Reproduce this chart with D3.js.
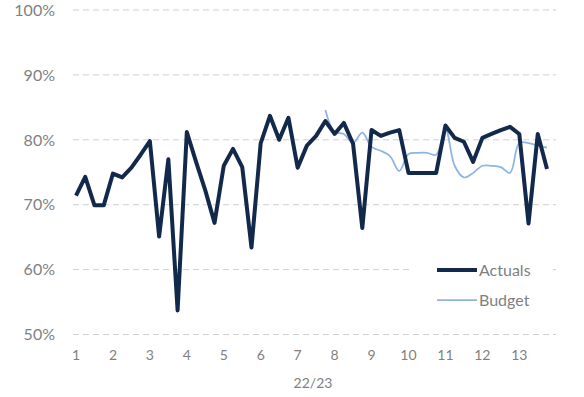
<!DOCTYPE html>
<html>
<head>
<meta charset="utf-8">
<script src="https://cdn.jsdelivr.net/npm/d3@7"></script>
<style>
  html, body { margin: 0; padding: 0; background: #fff; }
  svg { display: block; font-family: Lato, "Open Sans", sans-serif; }
</style>
</head>
<body>
<div id="chart"></div>
<script>
// Weekly values, 4 weeks per period, 13 periods (22/23)
const periodLabels = ['1', '2', '3', '4', '5', '6', '7', '8', '9', '10', '11', '12', '13'];
const weeksPerPeriod = 4;

const actuals = [
  71.4, 74.3, 69.9, 69.9, 74.8, 74.2, 75.7, 77.7, 79.8, 65.1, 77.0, 53.7, 81.2,
  76.6, 72.2, 67.2, 76.0, 78.6, 75.8, 63.4, 79.5, 83.7, 80.0, 83.4, 75.7, 79.1,
  80.6, 82.9, 80.9, 82.6, 79.4, 66.4, 81.5, 80.6, 81.1, 81.5, 74.9, 74.9, 74.9,
  74.9, 82.2, 80.3, 79.7, 76.6, 80.3, 80.9, 81.5, 82.0, 80.9, 67.1, 80.9, 75.5
];

// Budget only starts at week index 27
const budgetStart = 27;
const budget = [
  84.6, 81.2, 80.9, 79.5, 81.1, 78.9, 78.3, 77.5, 75.2, 77.8, 78.0, 78.0, 77.7,
  81.7, 76.0, 74.2, 74.9, 76.0, 76.0, 75.8, 74.9, 79.5, 79.5, 79.1, 78.8
];

const yTicks = [50, 60, 70, 80, 90, 100];
const xTitle = '22/23';

const width = 584, height = 397;
const grey = '#7f7f7f';

const svg = d3.select('#chart')
  .append('svg')
  .attr('width', width)
  .attr('height', height);

const x = d3.scaleLinear().domain([0, actuals.length - 1]).range([76, 547]);
const y = d3.scaleLinear().domain([50, 100]).range([334.5, 10]);

// Gridlines
svg.append('g')
  .selectAll('line')
  .data(yTicks)
  .join('line')
  .attr('x1', 73)
  .attr('x2', 556)
  .attr('y1', d => y(d))
  .attr('y2', d => y(d))
  .attr('stroke', '#cfcfcf')
  .attr('stroke-width', 1)
  .attr('stroke-dasharray', '6,4');

// Y labels
svg.append('g')
  .selectAll('text')
  .data(yTicks)
  .join('text')
  .attr('x', 55)
  .attr('y', d => y(d))
  .attr('dy', '0.36em')
  .attr('text-anchor', 'end')
  .attr('fill', grey)
  .attr('font-size', '16px')
  .text(d => d + '%');

// X labels (one per period)
svg.append('g')
  .selectAll('text')
  .data(periodLabels)
  .join('text')
  .attr('x', (d, i) => x(i * weeksPerPeriod))
  .attr('y', 355)
  .attr('dy', '0.36em')
  .attr('text-anchor', 'middle')
  .attr('fill', grey)
  .attr('font-size', '14px')
  .text(d => d);

svg.append('text')
  .attr('x', 313)
  .attr('y', 383)
  .attr('dy', '0.36em')
  .attr('text-anchor', 'middle')
  .attr('fill', grey)
  .attr('font-size', '14px')
  .text(xTitle);

// Budget line (smoothed)
const budgetLine = d3.line()
  .x((d, i) => x(budgetStart + i))
  .y(d => y(d))
  .curve(d3.curveCatmullRom.alpha(0.5));

svg.append('path')
  .datum(budget)
  .attr('d', budgetLine)
  .attr('fill', 'none')
  .attr('stroke', '#8eb4e3')
  .attr('stroke-width', 1.75);

// Actuals line
const actualsLine = d3.line()
  .x((d, i) => x(i))
  .y(d => y(d));

svg.append('path')
  .datum(actuals)
  .attr('d', actualsLine)
  .attr('fill', 'none')
  .attr('stroke', '#13294b')
  .attr('stroke-width', 4)
  .attr('stroke-linejoin', 'round');

// Legend
const legend = svg.append('g');
legend.append('rect')
  .attr('x', 412)
  .attr('y', 256)
  .attr('width', 137)
  .attr('height', 60)
  .attr('fill', '#fff');

const legendItems = [
  { name: 'Actuals', color: '#13294b', w: 4, y: 270 },
  { name: 'Budget', color: '#8eb4e3', w: 1.75, y: 300 }
];

legend.selectAll('line')
  .data(legendItems)
  .join('line')
  .attr('x1', 437)
  .attr('x2', 477)
  .attr('y1', d => d.y)
  .attr('y2', d => d.y)
  .attr('stroke', d => d.color)
  .attr('stroke-width', d => d.w);

legend.selectAll('text')
  .data(legendItems)
  .join('text')
  .attr('x', 479)
  .attr('y', d => d.y)
  .attr('dy', '0.36em')
  .attr('fill', grey)
  .attr('font-size', '16px')
  .text(d => d.name);
</script>
</body>
</html>
